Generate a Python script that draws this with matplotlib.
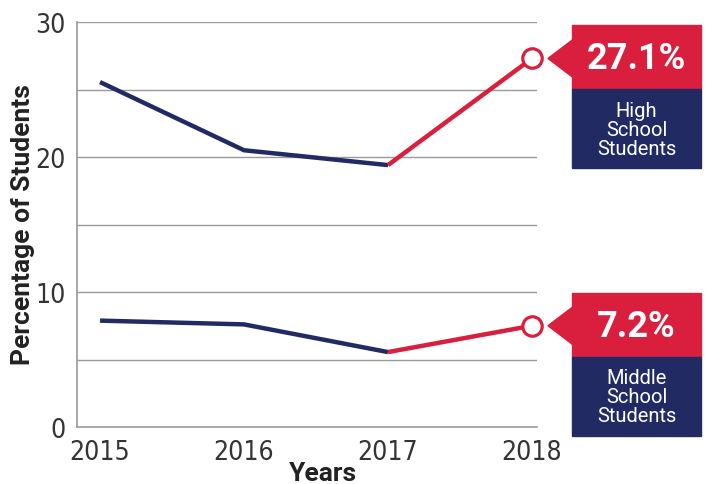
import matplotlib
matplotlib.use("Agg")
import matplotlib.pyplot as plt
from matplotlib.patches import Polygon, Rectangle
from matplotlib.transforms import IdentityTransform

# data (positions as drawn)
years = [2015, 2016, 2017, 2018]
high_school = [25.55, 20.5, 19.4, 27.3]
middle_school = [7.88, 7.6, 5.55, 7.5]
labels_high = ("27.1%", "High\nSchool\nStudents")
labels_middle = ("7.2%", "Middle\nSchool\nStudents")

NAVY = "#222a63"
RED = "#d91f3d"
GRID = "#9a9a9a"

W, H = 707, 485
fig = plt.figure(figsize=(W / 100, H / 100), dpi=100)
ax = fig.add_axes([77 / W, (H - 428) / H, (537 - 77) / W, (428 - 23) / H])

ax.set_xlim(2014.84, 2018.035)
ax.set_ylim(0, 30)
ax.set_yticks([0, 10, 20, 30])
ax.set_yticks([5, 15, 25], minor=True)
ax.set_xticks(years)
ax.grid(True, axis="y", which="both", color=GRID, lw=1)
ax.tick_params(which="both", length=0)
ax.tick_params(axis="y", pad=8, labelcolor="#333333")
ax.tick_params(axis="x", pad=9, labelcolor="#333333")
for t in ax.get_xticklabels() + ax.get_yticklabels():
    t.set_family("DejaVu Sans")
    t.set_fontstretch("condensed")
    t.set_fontsize(19)
for s in ["top", "right"]:
    ax.spines[s].set_visible(False)
for s in ["left", "bottom"]:
    ax.spines[s].set_color(GRID)
    ax.spines[s].set_linewidth(1.2)
ax.set_axisbelow(True)

ax.set_ylabel("Percentage of Students", fontsize=19, fontweight="bold",
              family="Roboto", color="#222222", va="center")
ax.yaxis.set_label_coords((23 - 77) / 460, (428 - 225) / 405)
ax.set_xlabel("Years", fontsize=19, fontweight="bold", family="Roboto",
              color="#222222", va="center")
ax.xaxis.set_label_coords((323 - 77) / 460, (428 - 474) / 405)

for series in (high_school, middle_school):
    ax.plot(years[:3], series[:3], color=NAVY, lw=3.2, solid_capstyle="butt",
            zorder=3)
    ax.plot(years[2:], series[2:], color=RED, lw=3.2, solid_capstyle="butt",
            zorder=4)
    ax.plot(years[3], series[3], "o", ms=14, mfc="white", mec=RED, mew=2.3,
            zorder=5, clip_on=False)


def callout(yval, big, small):
    mx, my = ax.transData.transform((years[3], yval))
    tr = IdentityTransform()
    # pointer triangle
    tri = Polygon([(mx + 16, my), (mx + 41, my + 19), (mx + 41, my - 19)],
                  closed=True, color=RED, transform=tr, clip_on=False)
    fig.patches.append(tri)
    fig.patches.append(Rectangle((mx + 40, my - 31), 129, 64, color=RED,
                                 transform=tr, clip_on=False))
    fig.patches.append(Rectangle((mx + 40, my - 110), 129, 79, color=NAVY,
                                 transform=tr, clip_on=False))
    cx = mx + 104.5
    fig.text(cx / W, my / H, big, color="white", fontsize=26,
             fontweight="bold", family="Roboto", ha="center", va="center")
    fig.text(cx / W, (my - 71) / H, small, color="white", fontsize=14.5,
             family="Roboto", ha="center", va="center", linespacing=1.0)


callout(high_school[3], *labels_high)
callout(middle_school[3], *labels_middle)

fig.savefig("out.png", dpi=100)
